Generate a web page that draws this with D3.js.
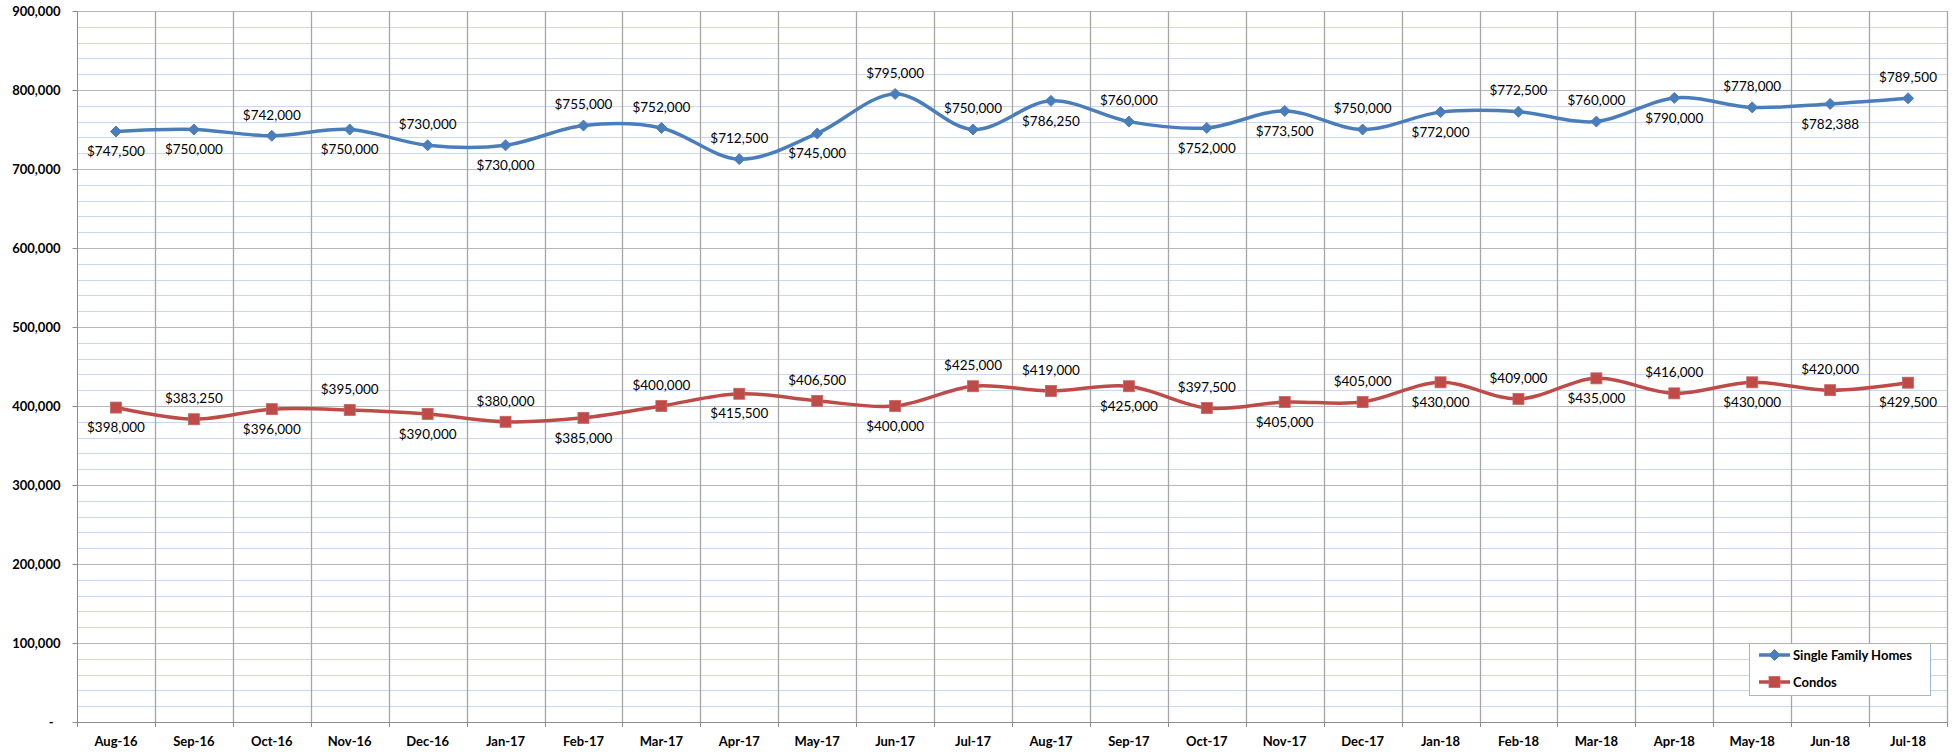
<!DOCTYPE html>
<html>
<head>
<meta charset="utf-8">
<script src="https://cdn.jsdelivr.net/npm/d3@7/dist/d3.min.js"></script>
<style>
  html, body { margin: 0; padding: 0; background: #fff; }
  svg { display: block; }
</style>
</head>
<body>
<svg id="chart" width="1957" height="752"></svg>
<script>
const categories = ["Aug-16","Sep-16","Oct-16","Nov-16","Dec-16","Jan-17","Feb-17","Mar-17","Apr-17","May-17","Jun-17","Jul-17",
  "Aug-17","Sep-17","Oct-17","Nov-17","Dec-17","Jan-18","Feb-18","Mar-18","Apr-18","May-18","Jun-18","Jul-18"];
const sfhValues = [747500,750000,742000,750000,730000,730000,755000,752000,712500,745000,795000,750000,
  786250,760000,752000,773500,750000,772000,772500,760000,790000,778000,782388,789500];
const condoValues = [398000,383250,396000,395000,390000,380000,385000,400000,415500,406500,400000,425000,
  419000,425000,397500,405000,405000,430000,409000,435000,416000,430000,420000,429500];
const seriesNames = ["Single Family Homes", "Condos"];
const yTicks = [0,100000,200000,300000,400000,500000,600000,700000,800000,900000];
const yMinorStep = 20000;
// label placement (above / below the point)
const sfhLabelSide = ["below","below","above","below","above","below","above","above","above","below","above","above",
  "below","above","below","below","above","below","above","above","below","above","below","above"];
const condoLabelSide = ["below","above","below","above","below","above","below","above","below","above","below","above",
  "above","below","above","below","above","below","above","below","above","below","above","below"];

const W = 1957, H = 752;
const plot = { left: 77, right: 1947, top: 11, bottom: 722 };
const svg = d3.select("#chart");

const x = d3.scaleBand().domain(categories).range([plot.left, plot.right]).paddingInner(0).paddingOuter(0);
const cx = d => x(d) + x.bandwidth() / 2;
const y = d3.scaleLinear().domain([0, 900000]).range([plot.bottom, plot.top]);

const fontAxis = "Lato, 'Open Sans', sans-serif";

// minor horizontal gridlines
const minor = d3.range(0, 900001, yMinorStep).filter(v => v % 100000 !== 0);
svg.append("g").selectAll("line").data(minor).join("line")
  .attr("x1", plot.left).attr("x2", plot.right)
  .attr("y1", d => Math.round(y(d)) + 0.5).attr("y2", d => Math.round(y(d)) + 0.5)
  .attr("stroke", "#c9d8ef").attr("stroke-width", 1);

// major horizontal gridlines
svg.append("g").selectAll("line").data(yTicks.filter(v => v > 0)).join("line")
  .attr("x1", plot.left).attr("x2", plot.right)
  .attr("y1", d => Math.round(y(d)) + 0.5).attr("y2", d => Math.round(y(d)) + 0.5)
  .attr("stroke", "#b8b8b8").attr("stroke-width", 1.2);

// vertical gridlines at category boundaries
const bounds = categories.slice(1).map(c => x(c)).concat([plot.right]);
svg.append("g").selectAll("line").data(bounds).join("line")
  .attr("x1", d => Math.round(d) + 0.5).attr("x2", d => Math.round(d) + 0.5)
  .attr("y1", plot.top).attr("y2", plot.bottom)
  .attr("stroke", "#a6a6a6").attr("stroke-width", 1.3);

// Y axis
const yAxis = d3.axisLeft(y).tickValues(yTicks).tickSize(5).tickPadding(12)
  .tickFormat(d => d === 0 ? "-" : d3.format(",")(d));
const gy = svg.append("g").attr("transform", `translate(${plot.left + 0.5},0)`).call(yAxis);
gy.selectAll(".domain").attr("stroke", "#8c8c8c").attr("d", `M0,${plot.top}V${plot.bottom}`);
gy.selectAll(".tick line").attr("stroke", "#8c8c8c");
gy.selectAll(".tick text").attr("font-family", fontAxis).attr("font-weight", "bold")
  .attr("font-size", "13px").attr("fill", "#000");
gy.selectAll(".tick").filter(d => d === 0).select("text").attr("x", -24);

// X axis
const xAxis = d3.axisBottom(x).tickSize(0).tickPadding(14);
const gx = svg.append("g").attr("transform", `translate(0,${plot.bottom + 0.5})`).call(xAxis);
gx.select(".domain").attr("stroke", "#8c8c8c").attr("d", `M${plot.left},0H${plot.right}`);
gx.selectAll(".tick text").attr("font-family", fontAxis).attr("font-weight", "bold")
  .attr("font-size", "13px").attr("fill", "#000");
// x tick marks at boundaries
svg.append("g").selectAll("line").data([plot.left].concat(bounds)).join("line")
  .attr("x1", d => Math.round(d) + 0.5).attr("x2", d => Math.round(d) + 0.5)
  .attr("y1", plot.bottom).attr("y2", plot.bottom + 5)
  .attr("stroke", "#8c8c8c");

const line = d3.line().x((d, i) => cx(categories[i])).y(d => y(d)).curve(d3.curveCardinal.tension(0));

const series = [
  { name: seriesNames[0], values: sfhValues, sides: sfhLabelSide, color: "#4a7ebb", marker: "diamond" },
  { name: seriesNames[1], values: condoValues, sides: condoLabelSide, color: "#be4b48", marker: "square" }
];

function drawMarker(g, type, color, px, py) {
  if (type === "diamond") {
    const r = 5.5;
    g.append("path").attr("d", `M${px},${py - r}L${px + r},${py}L${px},${py + r}L${px - r},${py}Z`)
      .attr("fill", color).attr("stroke", color).attr("stroke-width", 1);
  } else {
    const s = 11;
    g.append("rect").attr("x", px - s / 2).attr("y", py - s / 2).attr("width", s).attr("height", s)
      .attr("fill", color).attr("stroke", "#c76461").attr("stroke-width", 0.8);
  }
}

series.forEach(s => {
  const g = svg.append("g");
  g.append("path").datum(s.values).attr("d", line)
    .attr("fill", "none").attr("stroke", s.color).attr("stroke-width", 3.5)
    .attr("stroke-linejoin", "round").attr("stroke-linecap", "round");
  s.values.forEach((v, i) => drawMarker(g, s.marker, s.color, cx(categories[i]), y(v)));
  g.selectAll("text.lbl").data(s.values).join("text").attr("class", "lbl")
    .attr("x", (d, i) => cx(categories[i]))
    .attr("y", (d, i) => y(d) + (s.sides[i] === "above" ? -21 : 20))
    .attr("dy", "0.35em")
    .attr("text-anchor", "middle")
    .attr("font-family", fontAxis).attr("font-size", "13.5px").attr("fill", "#000")
    .text(d => "$" + d3.format(",")(d));
});

// Legend
const lg = svg.append("g");
lg.append("rect").attr("x", 1749.5).attr("y", 643.5).attr("width", 181).attr("height", 52)
  .attr("fill", "#fff").attr("stroke", "#9fb6d8").attr("stroke-width", 1);
series.forEach((s, i) => {
  const ly = 655 + i * 27;
  lg.append("line").attr("x1", 1759).attr("x2", 1790).attr("y1", ly).attr("y2", ly)
    .attr("stroke", s.color).attr("stroke-width", 3.5);
  drawMarker(lg, s.marker, s.color, 1774.5, ly);
  lg.append("text").attr("x", 1793).attr("y", ly).attr("dy", "0.35em")
    .attr("font-family", fontAxis).attr("font-weight", "bold").attr("font-size", "13px")
    .attr("fill", "#000").text(s.name);
});
</script>
</body>
</html>
